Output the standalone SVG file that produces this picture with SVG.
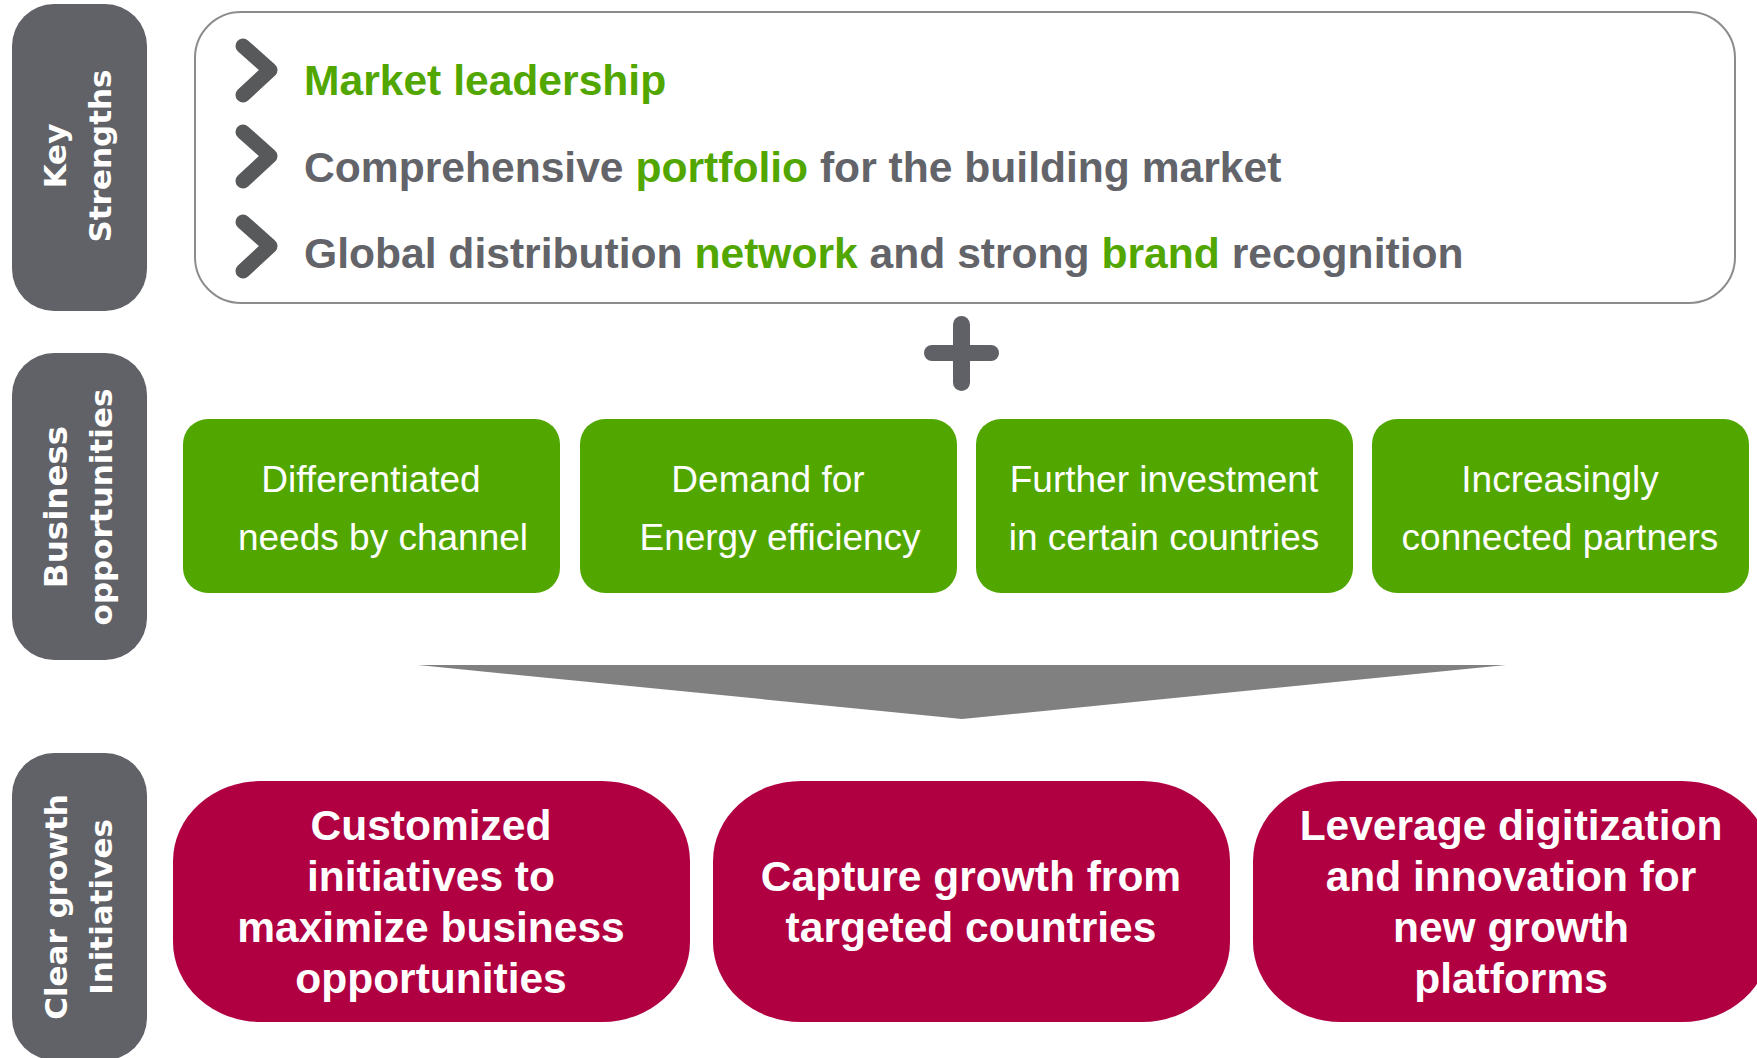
<svg xmlns="http://www.w3.org/2000/svg" width="1757" height="1058" viewBox="0 0 1757 1058">
<style>
.pill{fill:#616267}
.pilltxt{font-family:"DejaVu Sans",Verdana,sans-serif;font-weight:bold;font-size:31px;fill:#ffffff;text-anchor:middle}
.ks{font-family:"Liberation Sans",Arial,sans-serif;font-weight:bold;font-size:42.6px;fill:#636469}
.gr{fill:#52a600}
.chev{fill:none;stroke:#58595b;stroke-width:15;stroke-linecap:round;stroke-linejoin:round}
.gbox{fill:#52a600}
.gtxt{font-family:"Liberation Sans",Arial,sans-serif;font-size:37px;fill:#ffffff;text-anchor:middle}
.rbox{fill:#b00042}
.rtxt{font-family:"Liberation Sans",Arial,sans-serif;font-weight:bold;font-size:42.5px;fill:#ffffff;text-anchor:middle}
</style>
<rect width="1757" height="1058" fill="#ffffff"/>

<g id="label-key-strengths">
<rect class="pill" x="12" y="4" width="135" height="307" rx="42" ry="42"/>
<text class="pilltxt" transform="translate(66,156) rotate(-90)">Key</text>
<text class="pilltxt" transform="translate(111,156) rotate(-90)">Strengths</text>
</g>

<g id="label-business-opportunities">
<rect class="pill" x="12" y="353" width="135" height="307" rx="42" ry="42"/>
<text class="pilltxt" transform="translate(67,507) rotate(-90)" style="font-size:32.5px">Business</text>
<text class="pilltxt" transform="translate(112,507) rotate(-90)">opportunities</text>
</g>

<g id="label-clear-growth">
<rect class="pill" x="12" y="753" width="135" height="307" rx="42" ry="42"/>
<text class="pilltxt" transform="translate(67,907) rotate(-90)">Clear growth</text>
<text class="pilltxt" transform="translate(112,907) rotate(-90)">Initiatives</text>
</g>

<g id="key-strengths-box">
<rect x="195" y="12" width="1540" height="291" rx="46" ry="46" fill="#ffffff" stroke="#8c8c8c" stroke-width="2"/>
<polyline class="chev" points="243,46 270,70 243,95"/>
<polyline class="chev" points="243,132 270,156 243,181"/>
<polyline class="chev" points="243,222 270,246 243,271"/>
<text class="ks" x="304" y="95"><tspan class="gr">Market leadership</tspan></text>
<text class="ks" x="304" y="182">Comprehensive <tspan class="gr">portfolio</tspan> for the building market</text>
<text class="ks" x="304" y="268">Global distribution <tspan class="gr">network</tspan> and strong <tspan class="gr">brand</tspan> recognition</text>
</g>

<g id="opp-1">
<rect class="gbox" x="183" y="419" width="377" height="174" rx="25" ry="25"/>
<text class="gtxt" x="371" y="492">Differentiated</text>
<text class="gtxt" x="383" y="550">needs by channel</text>
</g>
<g id="opp-2">
<rect class="gbox" x="580" y="419" width="377" height="174" rx="25" ry="25"/>
<text class="gtxt" x="768" y="492">Demand for</text>
<text class="gtxt" x="780" y="550">Energy efficiency</text>
</g>
<g id="opp-3">
<rect class="gbox" x="976" y="419" width="377" height="174" rx="25" ry="25"/>
<text class="gtxt" x="1164" y="492">Further investment</text>
<text class="gtxt" x="1164" y="550">in certain countries</text>
</g>
<g id="opp-4">
<rect class="gbox" x="1372" y="419" width="377" height="174" rx="25" ry="25"/>
<text class="gtxt" x="1560" y="492">Increasingly</text>
<text class="gtxt" x="1560" y="550">connected partners</text>
</g>

<g id="init-1">
<rect class="rbox" x="173" y="781" width="517" height="241" rx="88" ry="80"/>
<text class="rtxt" x="431" y="840">Customized</text>
<text class="rtxt" x="431" y="891">initiatives to</text>
<text class="rtxt" x="431" y="942">maximize business</text>
<text class="rtxt" x="431" y="993">opportunities</text>
</g>
<g id="init-2">
<rect class="rbox" x="713" y="781" width="517" height="241" rx="88" ry="80"/>
<text class="rtxt" x="971" y="891">Capture growth from</text>
<text class="rtxt" x="971" y="942">targeted countries</text>
</g>
<g id="init-3">
<rect class="rbox" x="1253" y="781" width="517" height="241" rx="88" ry="80"/>
<text class="rtxt" x="1511" y="840">Leverage digitization</text>
<text class="rtxt" x="1511" y="891">and innovation for</text>
<text class="rtxt" x="1511" y="942">new growth</text>
<text class="rtxt" x="1511" y="993">platforms</text>
</g>

<g id="connectors">
<rect x="924" y="345" width="75" height="16" rx="8" ry="8" fill="#606166"/>
<rect x="953" y="316" width="17" height="75" rx="8.5" ry="8.5" fill="#606166"/>
<polygon points="418,665 1506,665 962,719" fill="#808080"/>
</g>
</svg>
